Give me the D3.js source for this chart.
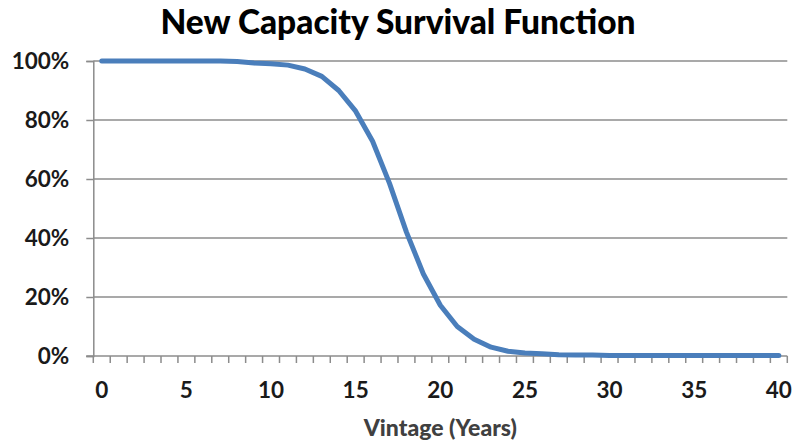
<!DOCTYPE html>
<html><head><meta charset="utf-8">
<script src="https://cdn.jsdelivr.net/npm/d3@7"></script>
<style>html,body{margin:0;padding:0;background:#fff;}svg{display:block;}</style>
</head><body>
<svg id="chart" width="794" height="445"></svg>
<script>
const vintages = d3.range(0, 41);
const survival = [1,1,1,1,1,1,1,1,0.998,0.993,0.991,0.986,0.973,0.948,0.90,0.83,0.728,0.585,0.42,0.278,0.172,0.10,0.057,0.03,0.016,0.01,0.008,0.004,0.003,0.003,0.002,0.002,0.002,0.002,0.002,0.002,0.002,0.002,0.002,0.002,0.002];
const yTicks = [0, 0.2, 0.4, 0.6, 0.8, 1.0];
const xLabelEvery = 5;
const chartTitle = "New Capacity Survival Function";
const xTitle = "Vintage (Years)";

const svg = d3.select("#chart");
const pL = 93.3, pR = 787.3, pT = 61, pB = 356;
const x = d3.scaleBand().domain(vintages).range([pL, pR]).padding(0);
const y = d3.scaleLinear().domain([0, 1]).range([pB, pT]);
const grey = "#8c8c8c";
const font = "Lato, 'Open Sans', sans-serif";

// gridlines
svg.append("g").selectAll("line").data(yTicks.filter(d => d > 0)).join("line")
  .attr("x1", pL).attr("x2", pR)
  .attr("y1", d => y(d)).attr("y2", d => y(d))
  .attr("stroke", grey).attr("stroke-width", 1.5);

// y axis
const yAxis = svg.append("g").attr("transform", `translate(${pL},0)`)
  .call(d3.axisLeft(y).tickValues(yTicks).tickFormat(d3.format(".0%")).tickSize(7).tickPadding(17));
yAxis.select(".domain").attr("stroke", grey).attr("stroke-width", 1.5);
yAxis.selectAll(".tick line").attr("stroke", grey).attr("stroke-width", 1.5);
yAxis.selectAll("text").attr("font-family", font).attr("font-weight", "bold")
  .attr("font-size", 22.5).attr("fill", "#1a1a1a");

// x axis: ticks at band boundaries, labels at centers
const xg = svg.append("g").attr("transform", `translate(0,${pB})`);
xg.append("line").attr("x1", pL - 7).attr("x2", pR).attr("y1", 0).attr("y2", 0)
  .attr("stroke", grey).attr("stroke-width", 1.5);
const bounds = vintages.map(v => x(v)).concat([x(vintages[vintages.length-1]) + x.bandwidth()]);
xg.selectAll("line.tk").data(bounds).join("line").attr("class", "tk")
  .attr("x1", d => d).attr("x2", d => d).attr("y1", 0).attr("y2", 7)
  .attr("stroke", grey).attr("stroke-width", 1.5);
xg.selectAll("text").data(vintages.filter(v => v % xLabelEvery === 0)).join("text")
  .attr("x", d => x(d) + x.bandwidth() / 2).attr("y", 42)
  .attr("text-anchor", "middle")
  .attr("font-family", font).attr("font-weight", "bold").attr("font-size", 22.5).attr("fill", "#1a1a1a")
  .text(d => d);

// line
const line = d3.line()
  .x((d, i) => x(vintages[i]) + x.bandwidth() / 2)
  .y(d => y(d));
svg.append("path").datum(survival).attr("d", line)
  .attr("fill", "none").attr("stroke", "#4a7ebb").attr("stroke-width", 5)
  .attr("stroke-linejoin", "round").attr("stroke-linecap", "round");

// titles
svg.append("text").attr("x", 398).attr("y", 34).attr("text-anchor", "middle")
  .attr("font-family", font).attr("font-weight", 900).attr("font-size", 33.5).attr("fill", "#000")
  .text(chartTitle);
svg.append("text").attr("x", (pL + pR) / 2).attr("y", 436).attr("text-anchor", "middle")
  .attr("font-family", font).attr("font-weight", 900).attr("font-size", 23).attr("fill", "#404040")
  .text(xTitle);
</script>
</body></html>
